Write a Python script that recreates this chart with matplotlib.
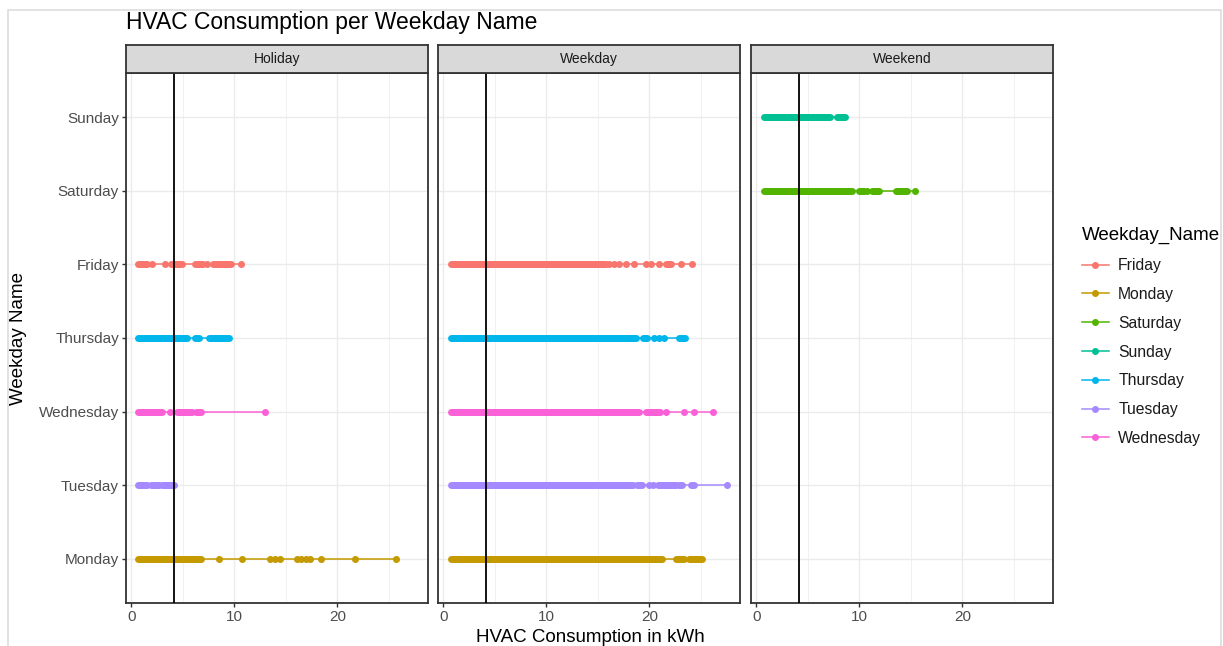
import matplotlib
matplotlib.use("Agg")
import matplotlib.pyplot as plt
from matplotlib.lines import Line2D
from matplotlib.patches import Rectangle

plt.rcParams['font.family'] = ['Liberation Sans', 'DejaVu Sans']

# categories (bottom -> top) and ggplot hue colours
days = ["Monday", "Tuesday", "Wednesday", "Thursday", "Friday", "Saturday", "Sunday"]
legend_days = ["Friday", "Monday", "Saturday", "Sunday", "Thursday", "Tuesday", "Wednesday"]
colors = {"Friday": "#F8766D", "Monday": "#C49A00", "Saturday": "#53B400",
          "Sunday": "#00C094", "Thursday": "#00B6EB", "Tuesday": "#A58AFF",
          "Wednesday": "#FB61D7"}
panels = ["Holiday", "Weekday", "Weekend"]
mean_kwh = 4.13

# dense runs of overlapping points (start, end) in kWh
holiday_bands = {
    "Friday": [(0.7, 1.5), (3.9, 4.9), (6.2, 7.0), (7.9, 9.7)],
    "Thursday": [(0.7, 5.4), (6.2, 6.6), (7.6, 9.5)],
    "Wednesday": [(0.7, 3.0), (4.4, 5.9), (6.25, 6.8)],
    "Tuesday": [(0.7, 1.5), (1.9, 2.7), (3.0, 4.2)],
    "Monday": [(0.7, 6.8)],
}
holiday_points = {
    "Friday": [2.0, 3.3, 7.4, 10.7],
    "Thursday": [],
    "Wednesday": [3.75, 13.0],
    "Tuesday": [],
    "Monday": [8.5, 10.8, 13.5, 14.0, 14.4, 16.1, 16.5, 17.0, 17.4, 18.4, 21.7, 25.7],
}
weekday_bands = {
    "Friday": [(0.74, 15.8), (21.6, 22.1)],
    "Thursday": [(0.74, 18.7), (19.4, 19.8), (22.9, 23.5)],
    "Wednesday": [(0.74, 19.0), (19.7, 21.0)],
    "Tuesday": [(0.74, 18.4), (18.8, 19.3), (20.8, 22.6), (22.9, 23.2), (24.0, 24.3)],
    "Monday": [(0.74, 21.2), (22.6, 23.4), (23.9, 25.1)],
}
weekday_points = {
    "Friday": [16.1, 16.6, 17.1, 17.7, 18.5, 19.7, 20.2, 20.9, 23.1, 24.1],
    "Thursday": [20.5, 20.9, 21.45],
    "Wednesday": [21.6, 23.4, 24.3, 26.2],
    "Tuesday": [20.0, 20.4, 27.5],
    "Monday": [],
}
weekend_bands = {
    "Sunday": [(0.74, 7.2), (7.8, 8.6)],
    "Saturday": [(0.74, 9.3), (10.0, 10.5), (11.2, 11.9), (13.6, 14.6)],
}
weekend_points = {
    "Sunday": [],
    "Saturday": [10.8, 15.4],
}
all_bands = [holiday_bands, weekday_bands, weekend_bands]
all_points = [holiday_points, weekday_points, weekend_points]

W, H = 1223, 646
fig = plt.figure(figsize=(W / 100, H / 100), dpi=100)
fig.patches.append(Rectangle((8 / W, -0.01), (1221 - 8) / W, 1 - 10 / H + 0.01,
                             transform=fig.transFigure, fill=False,
                             edgecolor="#DDDDDD", lw=1.2))

panel_left = [126, 438, 751]
panel_w = 302
top, bottom = 73, 603
strip_h = 28
marker_px = 7.0
ms = marker_px * 72 / 100

for i, name in enumerate(panels):
    x0 = panel_left[i] / W
    ax = fig.add_axes([x0, 1 - bottom / H, panel_w / W, (bottom - top) / H])
    ax.set_xlim(-0.5, 28.8)
    ax.set_ylim(0.4, 7.6)
    ax.set_xticks([0, 10, 20])
    ax.set_xticks([5, 15, 25], minor=True)
    ax.set_yticks(range(1, 8))
    ax.grid(True, which="major", color="#EBEBEB", lw=1.0)
    ax.grid(True, which="minor", axis="x", color="#EBEBEB", lw=0.5)
    ax.set_axisbelow(True)
    for s in ax.spines.values():
        s.set_color("#333333")
        s.set_linewidth(1.3)
    ax.tick_params(axis="both", which="major", color="#333333", length=3,
                   width=1, labelsize=11, labelcolor="#4D4D4D", pad=2)
    ax.tick_params(axis="both", which="minor", length=0)
    if i == 0:
        ax.set_yticklabels(days)
    else:
        ax.set_yticklabels([])
        ax.tick_params(axis="y", length=0)

    bands = all_bands[i]
    points = all_points[i]
    for day, segs in bands.items():
        y = days.index(day) + 1
        c = colors[day]
        vals = [v for seg in segs for v in seg] + points[day]
        ax.plot([min(vals), max(vals)], [y, y], color=c, lw=1.1, zorder=2)
        for a, b in segs:
            ax.plot([a, b], [y, y], color=c, lw=ms, solid_capstyle="round", zorder=3)
        ax.plot(points[day], [y] * len(points[day]), "o", color=c, ms=ms,
                mec="none", zorder=3)
    ax.axvline(mean_kwh, color="black", lw=1.3, zorder=4)

    sax = fig.add_axes([x0, 1 - top / H, panel_w / W, strip_h / H])
    sax.set_facecolor("#D9D9D9")
    sax.set_xticks([])
    sax.set_yticks([])
    for s in sax.spines.values():
        s.set_color("#333333")
        s.set_linewidth(1.3)
    sax.text(0.5, 0.5, name, ha="center", va="center", fontsize=10,
             color="#1A1A1A", transform=sax.transAxes)

fig.text(126 / W, 1 - 22 / H, "HVAC Consumption per Weekday Name",
         fontsize=16.5, color="black", ha="left", va="center")
fig.text(590 / W, 1 - 637 / H, "HVAC Consumption in kWh", fontsize=13.5,
         ha="center", va="center")
fig.text(19 / W, 1 - 338 / H, "Weekday Name", fontsize=13.5, rotation=90,
         ha="center", va="center")

handles = [Line2D([], [], color=colors[d], marker="o", ms=4, lw=1.1) for d in legend_days]
leg = fig.legend(handles, legend_days, loc="upper left",
                 bbox_to_anchor=(1068 / W, 1 - 213 / H), frameon=False,
                 title="Weekday_Name", fontsize=11.3, title_fontsize=13.5,
                 handlelength=1.7, labelspacing=0.88, handletextpad=0.6,
                 alignment="left")
for t in leg.get_texts():
    t.set_color("#1A1A1A")

fig.savefig("out.png", dpi=100)
